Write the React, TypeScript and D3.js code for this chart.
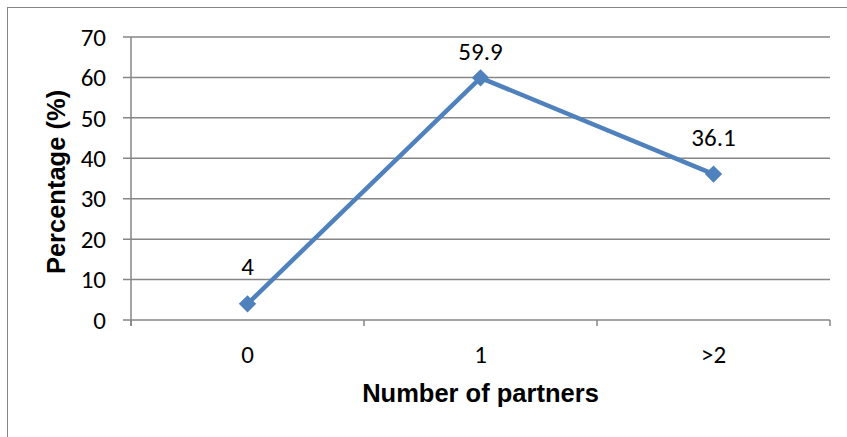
import React from "react";
import * as d3 from "d3";

const categories = ["0", "1", ">2"];
const percentages = [4, 59.9, 36.1];
const yTicks = [0, 10, 20, 30, 40, 50, 60, 70];

const W = 847;
const H = 437;
const plot = { left: 131, right: 830, top: 37, bottom: 320 };
const tickFont = "Carlito, Calibri, 'Liberation Sans', Arial, sans-serif";
const titleFont = "'Liberation Sans', Arial, sans-serif";
const blue = "#4F81BD";
const grid = "#868686";

export default function App() {
  const x = d3
    .scaleBand<string>()
    .domain(categories)
    .range([plot.left, plot.right])
    .paddingInner(0)
    .paddingOuter(0);
  const y = d3.scaleLinear().domain([0, 70]).range([plot.bottom, plot.top]);
  const cx = (c: string) => (x(c) ?? 0) + x.bandwidth() / 2;

  const line = d3
    .line<number>()
    .x((_, i) => cx(categories[i]))
    .y((d) => y(d));

  const boundaries = [...categories.map((c) => x(c) ?? 0), plot.right];
  // square rotated 45° gives the diamond marker
  const marker = d3.symbol(d3.symbolSquare, 150)();
  // labels sit above their point but stay inside the plot area
  const labelY = (v: number) => Math.max(y(v) - 28.5, plot.top + 23);

  return (
    <svg
      width={W}
      height={H}
      style={{ position: "absolute", left: 0, top: 0, background: "#fff" }}
    >
      <rect x={7.5} y={7.5} width={W} height={H} fill="#fff" stroke={grid} strokeWidth={1} />

      {yTicks.map((t) => (
        <g key={t}>
          <line
            x1={plot.left - 8}
            x2={plot.right}
            y1={y(t)}
            y2={y(t)}
            stroke={grid}
            strokeWidth={1.5}
          />
          <text
            x={plot.left - 25}
            y={y(t)}
            dy="0.35em"
            textAnchor="end"
            fontFamily={tickFont}
            fontSize={25}
            fill="#000"
          >
            {t}
          </text>
        </g>
      ))}

      <line x1={plot.left} x2={plot.left} y1={plot.top} y2={plot.bottom + 6} stroke={grid} strokeWidth={1.5} />
      {boundaries.map((b, i) => (
        <line key={i} x1={b} x2={b} y1={plot.bottom} y2={plot.bottom + 6} stroke={grid} strokeWidth={1.5} />
      ))}

      {categories.map((c) => (
        <text
          key={c}
          x={cx(c)}
          y={363}
          textAnchor="middle"
          fontFamily={tickFont}
          fontSize={25}
          fill="#000"
        >
          {c}
        </text>
      ))}

      <path d={line(percentages) ?? ""} fill="none" stroke={blue} strokeWidth={4.5} strokeLinejoin="round" />
      {percentages.map((v, i) => (
        <path
          key={i}
          d={marker ?? ""}
          transform={`translate(${cx(categories[i])},${y(v)}) rotate(45)`}
          fill={blue}
        />
      ))}

      {percentages.map((v, i) => (
        <text
          key={i}
          x={cx(categories[i])}
          y={labelY(v)}
          textAnchor="middle"
          fontFamily={tickFont}
          fontSize={25}
          fill="#000"
        >
          {v}
        </text>
      ))}

      <text
        x={(plot.left + plot.right) / 2}
        y={402}
        textAnchor="middle"
        fontFamily={titleFont}
        fontWeight="bold"
        fontSize={25.5}
        fill="#000"
      >
        Number of partners
      </text>
      <text
        transform={`translate(65,182) rotate(-90)`}
        textAnchor="middle"
        fontFamily={titleFont}
        fontWeight="bold"
        fontSize={25.5}
        fill="#000"
      >
        Percentage (%)
      </text>
    </svg>
  );
}
